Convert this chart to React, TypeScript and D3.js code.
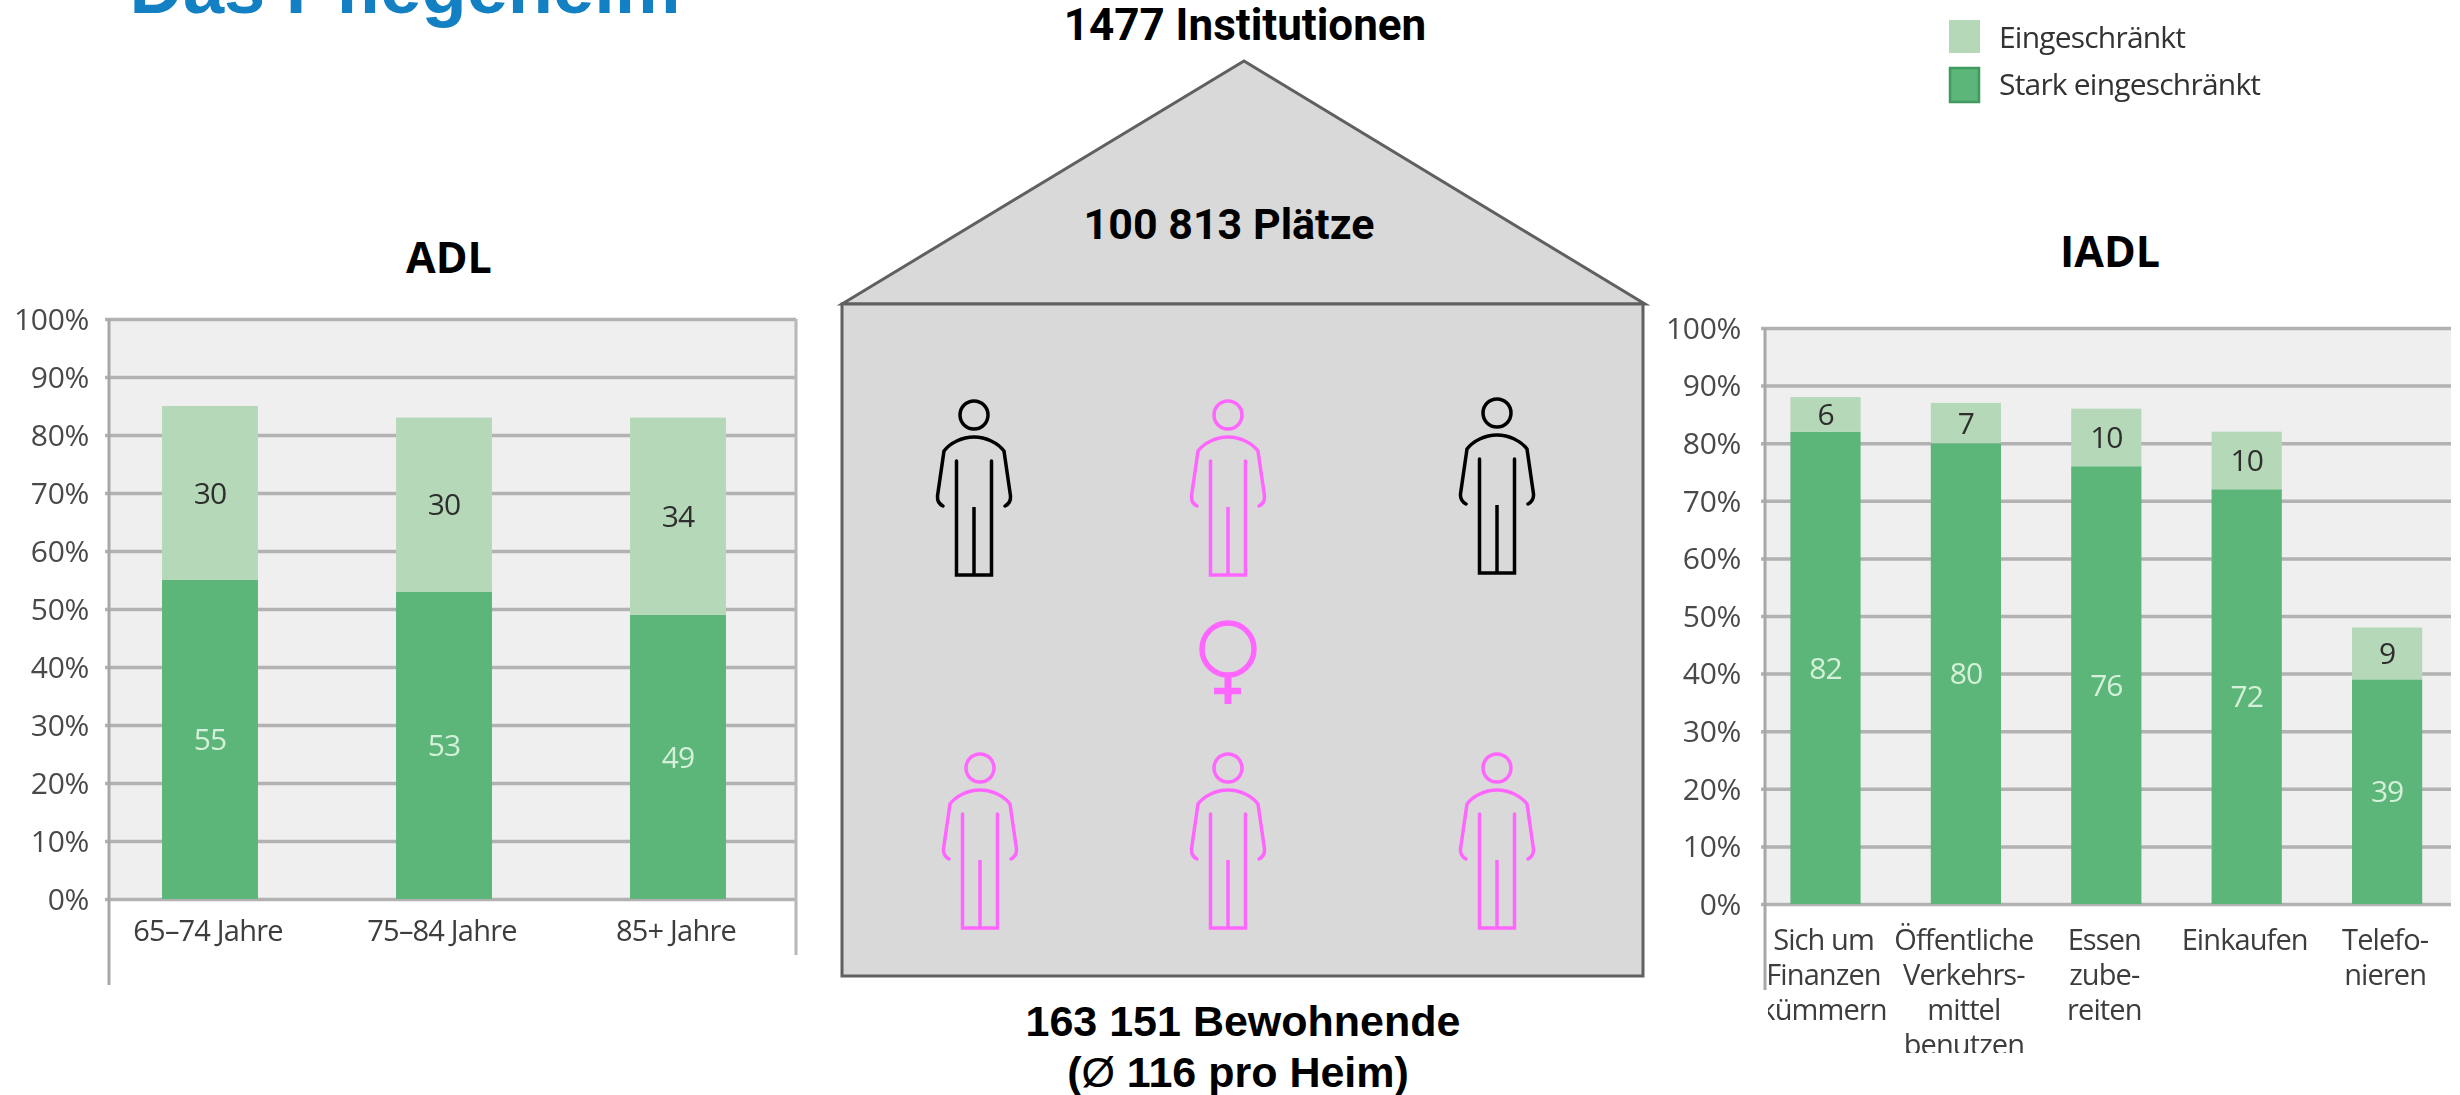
import { useEffect, useRef } from "react";
import * as d3 from "d3";

// ADL chart
const adlAges = ["65–74 Jahre", "75–84 Jahre", "85+ Jahre"];
const adlStark = [55, 53, 49];
const adlEingeschraenkt = [30, 30, 34];

// IADL chart
const iadlTasks = [
  ["Sich um", "Finanzen", "kümmern"],
  ["Öffentliche", "Verkehrs-", "mittel", "benutzen"],
  ["Essen", "zube-", "reiten"],
  ["Einkaufen"],
  ["Telefo-", "nieren"],
];
const iadlStark = [82, 80, 76, 72, 39];
const iadlEingeschraenkt = [6, 7, 10, 10, 9];

const legendLabels = ["Eingeschränkt", "Stark eingeschränkt"];
const percentTicks = [0, 10, 20, 30, 40, 50, 60, 70, 80, 90, 100];

const DARK = "#5bb579";
const LIGHT = "#b5d9b8";
const PINK = "#ff66ff";
const SANS = "'Liberation Sans', Arial, sans-serif";
const CHART_FONT = "'Open Sans', sans-serif";

function drawChart(svg, opts) {
  const { names, stark, light, left, right, top, bottom, bandStart, bandEnd, inner, tickX } = opts;
  const g = svg.append("g").attr("filter", "url(#soft)");

  const y = d3.scaleLinear().domain([0, 100]).range([bottom, top]);
  const x = d3
    .scaleBand()
    .domain(d3.range(names.length))
    .range([bandStart, bandEnd])
    .paddingInner(inner)
    .paddingOuter(inner / 2);

  g.append("rect")
    .attr("x", left)
    .attr("y", top)
    .attr("width", right - left)
    .attr("height", bottom - top)
    .attr("fill", "#efefef");

  // grid lines come straight from the axis ticks
  const axis = g
    .append("g")
    .attr("transform", `translate(${left},0)`)
    .call(
      d3
        .axisLeft(y)
        .tickValues(percentTicks)
        .tickFormat((d) => `${d}%`)
        .tickSizeInner(-(right - left))
        .tickSizeOuter(0)
        .tickPadding(0)
    );
  axis.select(".domain").remove();
  axis
    .selectAll("line")
    .attr("x1", right - left)
    .attr("x2", -4)
    .attr("stroke", "#b2b2b2")
    .attr("stroke-width", 3.5);
  axis
    .selectAll("text")
    .attr("x", tickX - left)
    .attr("dy", "0.34em")
    .attr("font-family", CHART_FONT)
    .attr("font-size", 30)
    .attr("letter-spacing", -0.3)
    .attr("fill", "#4a4a4a");

  g.append("line")
    .attr("x1", left)
    .attr("x2", left)
    .attr("y1", top)
    .attr("y2", opts.leftEnd)
    .attr("stroke", "#a8a8a8")
    .attr("stroke-width", 3);
  if (opts.rightEnd) {
    g.append("line")
      .attr("x1", right)
      .attr("x2", right)
      .attr("y1", top)
      .attr("y2", opts.rightEnd)
      .attr("stroke", "#b8b8b8")
      .attr("stroke-width", 3);
  }

  const bars = g
    .selectAll("g.bar")
    .data(names)
    .join("g")
    .attr("class", "bar")
    .attr("transform", (_, i) => `translate(${x(i)},0)`);

  bars
    .append("rect")
    .attr("y", (_, i) => y(stark[i]))
    .attr("width", x.bandwidth())
    .attr("height", (_, i) => y(0) - y(stark[i]))
    .attr("fill", DARK);
  bars
    .append("rect")
    .attr("y", (_, i) => y(stark[i] + light[i]))
    .attr("width", x.bandwidth())
    .attr("height", (_, i) => y(stark[i]) - y(stark[i] + light[i]))
    .attr("fill", LIGHT);

  const valueLabel = (sel) =>
    sel
      .append("text")
      .attr("x", x.bandwidth() / 2)
      .attr("text-anchor", "middle")
      .attr("dy", "0.36em")
      .attr("font-family", CHART_FONT)
      .attr("font-size", 30)
      .attr("letter-spacing", -1);
  valueLabel(bars)
    .attr("y", (_, i) => y(stark[i] / 2))
    .attr("fill", "#d5f0d8")
    .text((_, i) => stark[i]);
  valueLabel(bars)
    .attr("y", (_, i) => y(stark[i] + light[i] / 2))
    .attr("fill", "#2e2e2e")
    .attr("font-weight", 500)
    .text((_, i) => light[i]);

  // category labels, cropped where the pasted picture was cropped
  const labels = g
    .append("g")
    .attr("clip-path", opts.clip ? `url(#${opts.clip})` : null)
    .selectAll("text")
    .data(names)
    .join("text")
    .attr("text-anchor", "middle")
    .attr("font-family", CHART_FONT)
    .attr("font-size", opts.labelSize)
    .attr("letter-spacing", opts.labelSpacing)
    .attr("fill", "#3c3c3c")
    .attr("transform", (_, i) => `translate(${x(i) + x.bandwidth() / 2 - 2},${opts.labelY})`);
  labels
    .selectAll("tspan")
    .data((d) => d)
    .join("tspan")
    .attr("x", 0)
    .attr("y", (_, i) => i * 35)
    .text((d) => d);
}

function drawPerson(svg, cx, top, color) {
  const g = svg
    .append("g")
    .attr("transform", `translate(${cx},${top})`)
    .attr("fill", "none")
    .attr("stroke", color)
    .attr("stroke-width", 3.5);
  g.append("circle").attr("cy", 16).attr("r", 14);
  g.append("path")
    .attr("stroke-linecap", "round")
    .attr("d", "M-31,107 Q-37,104 -36.5,97 L-30,52 C-24,44 -12,38 0,38 C12,38 24,44 30,52 L36.5,97 Q37,104 31,107");
  g.append("path").attr("stroke-linecap", "round").attr("d", "M-17.5,62 V176 H17.5 V62");
  g.append("path").attr("d", "M0,108 V176");
}

export default function App() {
  const svgRef = useRef(null);

  useEffect(() => {
    const svg = d3.select(svgRef.current);
    svg.selectAll("*").remove();

    const defs = svg.append("defs");
    defs
      .append("filter")
      .attr("id", "soft")
      .attr("x", "-2%")
      .attr("y", "-2%")
      .attr("width", "104%")
      .attr("height", "104%")
      .append("feGaussianBlur")
      .attr("stdDeviation", 0.7);
    defs
      .append("clipPath")
      .attr("id", "iadlClip")
      .append("rect")
      .attr("x", 1768)
      .attr("y", 910)
      .attr("width", 692)
      .attr("height", 143);

    const text = (str, x, y, size, family = SANS) =>
      svg
        .append("text")
        .attr("x", x)
        .attr("y", y)
        .attr("text-anchor", "middle")
        .attr("font-family", family)
        .attr("font-weight", 700)
        .attr("font-size", size)
        .attr("fill", "#000")
        .text(str);

    text("Das Pflegeheim", 405, 13, 74).attr("fill", "#1380c4");

    // house
    svg
      .append("path")
      .attr("d", "M842,304 L1244,61 L1645,304 Z")
      .attr("fill", "#d9d9d9")
      .attr("stroke", "#606060")
      .attr("stroke-width", 3);
    svg
      .append("rect")
      .attr("x", 842)
      .attr("y", 304)
      .attr("width", 801)
      .attr("height", 672)
      .attr("fill", "#d9d9d9")
      .attr("stroke", "#606060")
      .attr("stroke-width", 3);

    text("1477 Institutionen", 1245, 40, 44, "Roboto, sans-serif");
    text("100 813 Plätze", 1229, 239, 43, "Roboto, sans-serif");
    text("163 151 Bewohnende", 1243, 1036, 43);
    const avg = text("(", 1238, 1087, 43);
    avg.append("tspan").attr("font-weight", 400).text("Ø");
    avg.append("tspan").text(" 116 pro Heim)");
    text("ADL", 449, 273, 43, "'Open Sans', sans-serif");
    text("IADL", 2110, 267, 43, "'Open Sans', sans-serif");

    drawPerson(svg, 974, 399, "#000");
    drawPerson(svg, 1228, 399, PINK);
    drawPerson(svg, 1497, 397, "#000");
    drawPerson(svg, 980, 752, PINK);
    drawPerson(svg, 1228, 752, PINK);
    drawPerson(svg, 1497, 752, PINK);

    // female sign
    const sign = svg.append("g").attr("transform", "translate(1228,649)").attr("stroke", PINK).attr("fill", "none");
    sign.append("circle").attr("r", 26).attr("stroke-width", 5.5);
    sign.append("path").attr("stroke-width", 7).attr("d", "M0,28 V55");
    sign.append("path").attr("stroke-width", 6.5).attr("d", "M-14,42 H13");

    drawChart(svg, {
      names: adlAges.map((d) => [d]),
      stark: adlStark,
      light: adlEingeschraenkt,
      left: 109,
      right: 796,
      top: 319,
      bottom: 899,
      bandStart: 93,
      bandEnd: 795,
      inner: 0.59,
      tickX: 89,
      leftEnd: 985,
      rightEnd: 955,
      labelY: 941,
      labelSize: 29,
      labelSpacing: -0.8,
    });

    drawChart(svg, {
      names: iadlTasks,
      stark: iadlStark,
      light: iadlEingeschraenkt,
      left: 1765,
      right: 2451,
      top: 328,
      bottom: 904,
      bandStart: 1755.3,
      bandEnd: 2457.3,
      inner: 0.5,
      tickX: 1741,
      leftEnd: 990,
      labelY: 950,
      labelSize: 29,
      labelSpacing: -0.9,
      clip: "iadlClip",
    });

    // legend
    const legend = svg.append("g").attr("filter", "url(#soft)");
    legend.append("rect").attr("x", 1949).attr("y", 20).attr("width", 31).attr("height", 33).attr("fill", LIGHT);
    legend
      .append("rect")
      .attr("x", 1950)
      .attr("y", 68)
      .attr("width", 29)
      .attr("height", 34)
      .attr("fill", DARK)
      .attr("stroke", "#3f9a5e")
      .attr("stroke-width", 2.5);
    legend
      .selectAll("text")
      .data(legendLabels)
      .join("text")
      .attr("x", 1999)
      .attr("y", (_, i) => 48 + i * 47)
      .attr("font-family", CHART_FONT)
      .attr("font-size", 30)
      .attr("letter-spacing", -0.8)
      .attr("fill", "#333")
      .text((d) => d);
  }, []);

  return (
    <svg
      ref={svgRef}
      width={2460}
      height={1095}
      viewBox="0 0 2460 1095"
      style={{ position: "absolute", left: 0, top: 0, display: "block", background: "#fff" }}
    />
  );
}
